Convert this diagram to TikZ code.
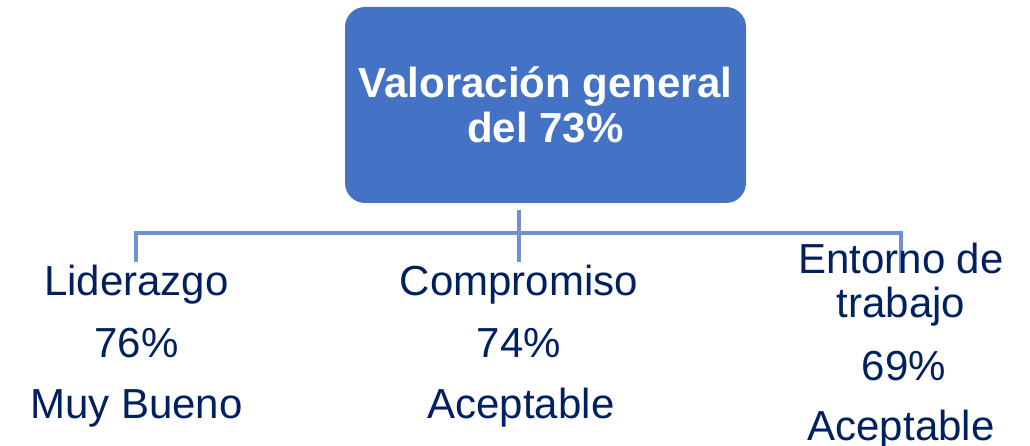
\documentclass[tikz,border=0pt]{standalone}
\usepackage{fontspec}
\setmainfont{Liberation Sans}
\definecolor{boxblue}{HTML}{4472C4}
\definecolor{linkblue}{HTML}{7190D2}
\definecolor{navy}{HTML}{002060}
\begin{document}
\begin{tikzpicture}[x=1pt,y=-1pt,
  titlebox/.style={rectangle,rounded corners=20pt,fill=boxblue,draw=none,
    minimum width=401pt,minimum height=196pt,inner sep=0pt,
    text=white,font=\fontsize{42}{45}\selectfont\bfseries,align=center},
  link/.style={draw=linkblue,line width=4pt},
  lbl/.style={anchor=base,inner sep=0pt,text=navy,font=\fontsize{42}{47}\selectfont}]
\useasboundingbox[fill=white] (0,0) rectangle (1030,446);
\node[titlebox] (root) at (545.5,105) {Valoración general\\del 73\%};
\coordinate (stem) at (519,210);
\coordinate (hub) at (519,233);
\coordinate (lc) at (136,233);
\coordinate (rc) at (901,233);
\coordinate (le) at (136,262);
\coordinate (me) at (519,262);
\coordinate (re) at (901,273);
\draw[link] (le) -- (lc) -- (rc) -- (re);
\draw[link] (stem) -- (me);
\node[lbl] (l1) at (136.5,295) {Liderazgo};
\node[lbl] (l2) at (136.5,357) {76\%};
\node[lbl] (l3) at (136.5,418) {Muy Bueno};
\node[lbl] (c1) at (519,295) {Compromiso};
\node[lbl] (c2) at (519,357) {74\%};
\node[lbl] (c3) at (521,418) {Aceptable};
\node[lbl] (e1) at (901,273) {Entorno de};
\node[lbl] (e2) at (901,317) {trabajo};
\node[lbl] (e3) at (904,380) {69\%};
\node[lbl] (e4) at (901,440) {Aceptable};
\end{tikzpicture}
\end{document}
